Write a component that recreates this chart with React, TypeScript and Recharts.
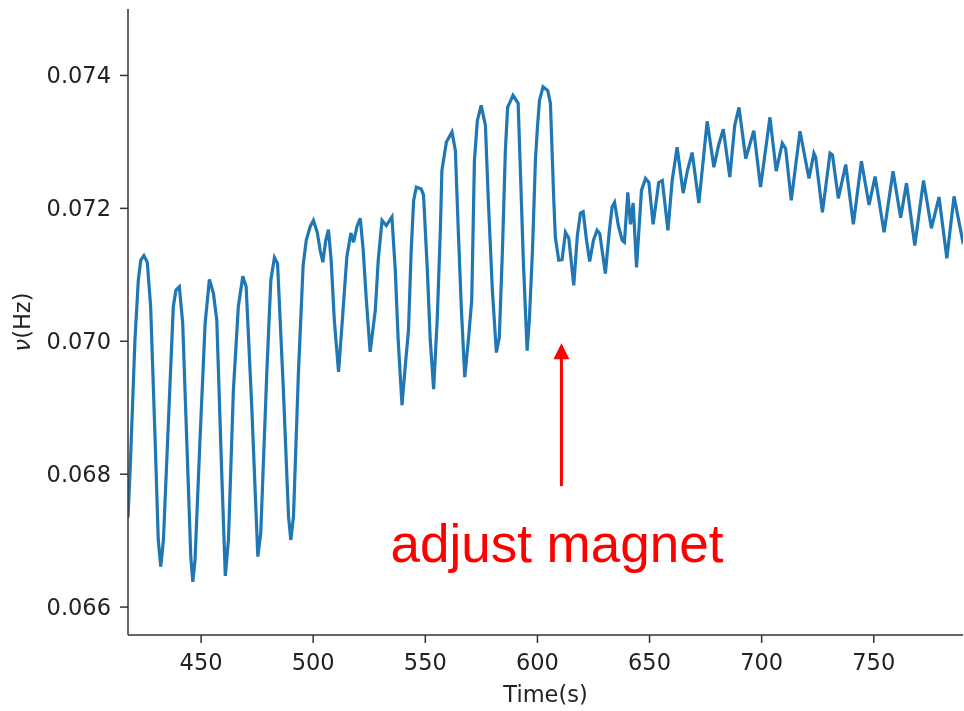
import { LineChart, Line, XAxis, YAxis, ReferenceLine, ReferenceDot } from 'recharts';

// sample times (s)
const times = [
  417.4, 418.3, 420.5, 422.0, 423.1, 424.5, 426.0, 427.5, 429.5, 430.9,
  432.0, 433.2, 435.4, 437.6, 438.8, 440.3, 441.8, 443.6, 445.4, 446.3,
  447.3, 449.5, 451.8, 453.7, 455.5, 457.0, 459.2, 460.8, 462.2, 464.4,
  466.6, 468.6, 470.1, 472.6, 475.3, 476.6, 479.3, 481.1, 482.7, 484.1,
  486.7, 489.0, 490.0, 491.2, 493.4, 495.5, 496.9, 498.7, 500.1, 501.8,
  503.1, 504.3, 505.6, 506.8, 508.0, 509.4, 511.3, 513.0, 515.0, 516.8,
  518.0, 519.6, 521.0, 522.3, 523.7, 525.4, 527.7, 529.0, 530.7, 532.6,
  535.1, 536.6, 537.9, 539.6, 541.1, 542.5, 543.7, 544.8, 546.0, 548.2,
  549.2, 550.9, 552.2, 553.7, 555.3, 556.7, 557.4, 559.4, 561.9, 563.4,
  564.7, 566.1, 567.6, 569.2, 570.7, 571.9, 573.2, 574.9, 576.8, 578.1,
  579.9, 581.7, 583.0, 584.4, 585.7, 586.7, 589.1, 591.4, 592.4, 593.7,
  595.4, 596.4, 597.8, 599.1, 599.9, 600.9, 602.5, 604.6, 605.8, 607.3,
  608.0, 609.5, 611.0, 612.5, 614.0, 616.2, 617.8, 619.2, 620.4, 621.9,
  623.3, 625.0, 626.6, 627.8, 630.3, 632.1, 633.3, 634.4, 636.1, 637.8,
  638.8, 640.3, 641.5, 642.7, 644.2, 646.4, 648.2, 649.7, 651.6, 654.1,
  655.7, 658.2, 660.1, 662.3, 665.0, 666.9, 669.0, 672.0, 675.7, 678.7,
  680.8, 682.9, 685.8, 688.0, 689.9, 692.9, 696.5, 699.5, 703.7, 706.5,
  709.2, 710.7, 713.2, 717.1, 721.1, 723.3, 724.1, 727.1, 730.5, 731.6,
  734.2, 737.5, 740.9, 744.5, 747.9, 750.6, 754.6, 758.6, 762.0, 764.6,
  768.3, 772.2, 775.7, 779.1, 782.6, 785.8, 789.6, 790.6,
];

// frequency nu (Hz) at each time
const freqs = [
  0.06735, 0.06802, 0.07002, 0.07092, 0.07122, 0.07129, 0.07119, 0.07052, 0.06851, 0.06701,
  0.06661, 0.06701, 0.06877, 0.07052, 0.07077, 0.07082, 0.07027, 0.06851, 0.06676, 0.06638,
  0.06671, 0.06851, 0.07027, 0.07093, 0.07072, 0.07032, 0.06802, 0.06647, 0.06701, 0.06926,
  0.07052, 0.07098, 0.07082, 0.06901, 0.06676, 0.06711, 0.06952, 0.07092, 0.07126, 0.07117,
  0.06926, 0.06736, 0.06701, 0.06736, 0.06952, 0.07114, 0.07152, 0.07173, 0.07182, 0.07164,
  0.07137, 0.07119, 0.07152, 0.07168, 0.07122, 0.07032, 0.06954, 0.07032, 0.07127, 0.07163,
  0.07149, 0.07174, 0.07185, 0.07137, 0.07062, 0.06984, 0.07047, 0.07122, 0.07182, 0.07174,
  0.07187, 0.07107, 0.07002, 0.06904, 0.06964, 0.07017, 0.07137, 0.07212, 0.07232, 0.07229,
  0.07220, 0.07107, 0.07002, 0.06928, 0.07032, 0.07167, 0.07257, 0.07300, 0.07315, 0.07287,
  0.07167, 0.07047, 0.06946, 0.07002, 0.07062, 0.07272, 0.07332, 0.07355, 0.07325, 0.07212,
  0.07077, 0.06983, 0.07006, 0.07137, 0.07287, 0.07352, 0.07370, 0.07358, 0.07257, 0.07122,
  0.06986, 0.07032, 0.07137, 0.07272, 0.07317, 0.07362, 0.07383, 0.07377, 0.07358, 0.07212,
  0.07156, 0.07122, 0.07123, 0.07164, 0.07155, 0.07084, 0.07159, 0.07193, 0.07195, 0.07152,
  0.07120, 0.07152, 0.07167, 0.07162, 0.07102, 0.07167, 0.07202, 0.07209, 0.07174, 0.07152,
  0.07149, 0.07224, 0.07176, 0.07208, 0.07111, 0.07227, 0.07245, 0.07239, 0.07176, 0.07239,
  0.07242, 0.07167, 0.07242, 0.07292, 0.07223, 0.07257, 0.07284, 0.07208, 0.07331, 0.07262,
  0.07295, 0.07319, 0.07247, 0.07325, 0.07352, 0.07275, 0.07317, 0.07232, 0.07337, 0.07256,
  0.07298, 0.07290, 0.07212, 0.07316, 0.07245, 0.07283, 0.07277, 0.07194, 0.07283, 0.07280,
  0.07215, 0.07266, 0.07176, 0.07271, 0.07205, 0.07248, 0.07164, 0.07256, 0.07186, 0.07238,
  0.07144, 0.07242, 0.07170, 0.07217, 0.07125, 0.07218, 0.07152, 0.07159,
];

const xTicks = [450, 500, 550, 600, 650, 700, 750];
const yTicks = [0.066, 0.068, 0.07, 0.072, 0.074];

const data = times.map((t, i) => ({ t, nu: freqs[i] }));

const axisFont = { fontSize: 22.5, fontFamily: 'DejaVu Sans', fill: '#222' };

// y label with an oblique nu like matplotlib mathtext
const NuLabel = (props: any) => {
  const vb = props.viewBox;
  const cx = vb.x + 22;
  const cy = vb.y + vb.height / 2;
  return (
    <text
      x={cx}
      y={cy}
      dy={8}
      transform={`rotate(-90, ${cx}, ${cy})`}
      textAnchor="middle"
      fontSize={22.5}
      fontFamily="DejaVu Sans"
      fill="#222"
    >
      <tspan fontStyle="italic">ν</tspan>
      <tspan>(Hz)</tspan>
    </text>
  );
};

export default function App() {
  return (
    <div style={{ position: 'fixed', left: 0, top: 0 }}>
      <LineChart
        width={964}
        height={711}
        data={data}
        margin={{ top: 9, right: 1, bottom: 0, left: 0 }}
      >
        <XAxis
          xAxisId="main"
          dataKey="t"
          type="number"
          domain={[417.4, 789.8]}
          allowDataOverflow
          ticks={xTicks}
          height={76}
          tickSize={8}
          tickMargin={11}
          tick={axisFont}
          stroke="#333"
          strokeWidth={1.5}
          label={{
            value: 'Time(s)',
            position: 'insideBottom',
            offset: 9,
            style: { fontSize: 22.5, fontFamily: 'DejaVu Sans', fill: '#222' },
          }}
        />
        <XAxis
          xAxisId="top"
          orientation="top"
          type="number"
          domain={[417.4, 789.8]}
          height={0}
          tick={false}
          tickLine={false}
          stroke="#333"
          strokeWidth={1.5}
        />
        <YAxis
          yAxisId="main"
          type="number"
          domain={[0.06558, 0.075]}
          allowDataOverflow
          ticks={yTicks}
          width={128}
          tickSize={8}
          tickMargin={9}
          tick={axisFont}
          tickFormatter={(v: number) => v.toFixed(3)}
          stroke="#333"
          strokeWidth={1.5}
          label={<NuLabel />}
        />
        <Line
          xAxisId="main"
          yAxisId="main"
          type="linear"
          dataKey="nu"
          stroke="#1f77b4"
          strokeWidth={3.2}
          dot={false}
          isAnimationActive={false}
        />
        {/* annotation: arrow + text */}
        <ReferenceLine
          xAxisId="main"
          yAxisId="main"
          segment={[{ x: 610.7, y: 0.06782 }, { x: 610.7, y: 0.06975 }]}
          stroke="#ff0000"
          strokeWidth={3}
        />
        <ReferenceDot
          xAxisId="main"
          yAxisId="main"
          x={610.7}
          y={0.06997}
          shape={(p: any) => (
            <polygon
              points={`${p.cx},${p.cy} ${p.cx - 8},${p.cy + 16} ${p.cx + 8},${p.cy + 16}`}
              fill="#ff0000"
            />
          )}
        />
        <ReferenceDot
          xAxisId="main"
          yAxisId="main"
          x={608.7}
          y={0.06668}
          shape={(p: any) => (
            <text
              x={p.cx}
              y={p.cy}
              textAnchor="middle"
              fontSize={53}
              fontFamily="Liberation Sans"
              fill="#ff0000"
            >
              adjust magnet
            </text>
          )}
        />
      </LineChart>
    </div>
  );
}
